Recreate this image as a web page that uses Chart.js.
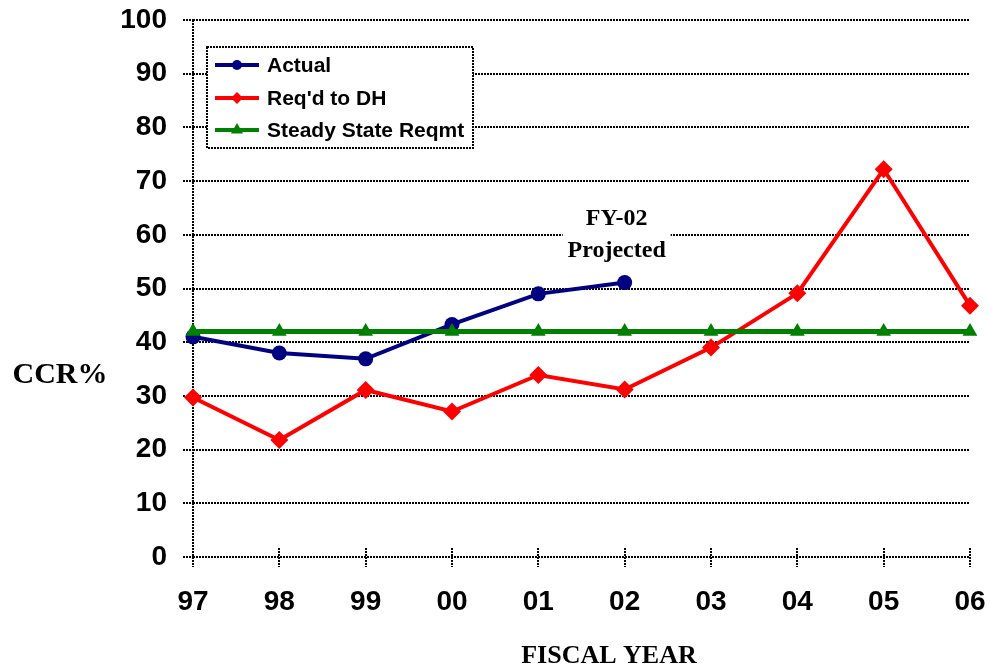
<!DOCTYPE html>
<html>
<head>
<meta charset="utf-8">
<script src="https://cdn.jsdelivr.net/npm/chart.js@4/dist/chart.umd.min.js"></script>
<style>
  html, body { margin: 0; padding: 0; background: #fff; }
  #wrap { width: 990px; height: 668px; position: relative; }
</style>
</head>
<body>
<div id="wrap"><canvas id="c" width="990" height="668"></canvas></div>
<script>
// ---- data ----
const categories = ['97', '98', '99', '00', '01', '02', '03', '04', '05', '06'];
const actual = [41.0, 38.0, 36.9, 43.3, 49.0, 51.1, null, null, null, null];
const reqdToDH = [29.7, 21.8, 31.1, 27.1, 33.9, 31.2, 39.0, 49.1, 72.2, 46.8];
const steadyState = [42, 42, 42, 42, 42, 42, 42, 42, 42, 42];
const seriesNames = ['Actual', "Req'd to DH", 'Steady State Reqmt'];
const yAxisTitle = 'CCR%';
const xAxisTitle = 'FISCAL YEAR';
const noteLines = ['FY-02', 'Projected'];
const noteAt = { category: '02', value: 60 };

const SANS = "'Liberation Sans', Arial, sans-serif";
const SERIF = "'Liberation Serif', 'Times New Roman', serif";
const DOTS = [2, 1];

function marker(ctx, style, x, y, r, color) {
  ctx.save();
  ctx.fillStyle = color;
  ctx.beginPath();
  if (style === 'circle') {
    ctx.arc(x, y, r, 0, Math.PI * 2);
  } else if (style === 'rectRot') {
    ctx.moveTo(x - r, y); ctx.lineTo(x, y - r); ctx.lineTo(x + r, y); ctx.lineTo(x, y + r);
    ctx.closePath();
  } else if (style === 'triangle') {
    ctx.moveTo(x, y - r); ctx.lineTo(x + r * 0.866, y + r * 0.5); ctx.lineTo(x - r * 0.866, y + r * 0.5);
    ctx.closePath();
  }
  ctx.fill();
  ctx.restore();
}

const extras = {
  id: 'extras',
  afterDraw(chart) {
    const ctx = chart.ctx;
    const xs = chart.scales.x, ys = chart.scales.y;
    // upward halves of x-axis tick marks
    ctx.save();
    ctx.strokeStyle = '#000';
    ctx.lineWidth = 2;
    ctx.setLineDash(DOTS);
    categories.forEach((c, i) => {
      const px = Math.round(xs.getPixelForValue(i));
      ctx.beginPath();
      ctx.moveTo(px, ys.bottom - 9);
      ctx.lineTo(px, ys.bottom);
      ctx.stroke();
    });
    ctx.restore();

    // legend box
    const lx = 207, ly = 47, lw = 266, lh = 101;
    ctx.save();
    ctx.fillStyle = '#fff';
    ctx.fillRect(lx, ly, lw, lh);
    ctx.strokeStyle = '#000';
    ctx.lineWidth = 2;
    ctx.setLineDash(DOTS);
    ctx.strokeRect(lx, ly, lw, lh);
    ctx.setLineDash([]);
    const rows = [65, 98, 130];
    chart.data.datasets.forEach((ds, i) => {
      const yy = rows[i];
      ctx.strokeStyle = ds.borderColor;
      ctx.lineWidth = 4;
      ctx.beginPath();
      ctx.moveTo(215, yy); ctx.lineTo(259, yy);
      ctx.stroke();
      marker(ctx, ds.pointStyle, 237, yy, ds.pointStyle === 'rectRot' ? 6 : (ds.pointStyle === 'triangle' ? 7 : 5), ds.borderColor);
      ctx.fillStyle = '#000';
      ctx.font = 'bold 21px ' + SANS;
      ctx.textBaseline = 'middle';
      ctx.textAlign = 'left';
      ctx.fillText(ds.label, 267, yy + 1);
    });
    ctx.restore();

    // note
    const nx = xs.getPixelForValue(categories.indexOf(noteAt.category)) - 8;
    const ny = ys.getPixelForValue(noteAt.value);
    ctx.save();
    ctx.fillStyle = '#fff';
    ctx.fillRect(nx - 54, ny - 28, 108, 56);
    ctx.fillStyle = '#000';
    ctx.font = 'bold 24px ' + SERIF;
    ctx.textAlign = 'center';
    ctx.textBaseline = 'middle';
    ctx.fillText(noteLines[0], nx, ny - 16);
    ctx.fillText(noteLines[1], nx, ny + 16);
    ctx.restore();

    // axis titles
    ctx.save();
    ctx.fillStyle = '#000';
    ctx.textBaseline = 'middle';
    ctx.textAlign = 'center';
    ctx.font = 'bold 30px ' + SERIF;
    ctx.fillText(yAxisTitle, 60, 375);
    ctx.font = 'bold 26px ' + SERIF;
    ctx.fillText(xAxisTitle, 609, 656);
    ctx.restore();
  }
};

new Chart(document.getElementById('c'), {
  type: 'line',
  data: {
    labels: categories,
    datasets: [
      {
        label: seriesNames[0], data: actual,
        borderColor: '#000080', backgroundColor: '#000080',
        borderWidth: 4, pointStyle: 'circle', pointRadius: 7.5,
        pointBorderWidth: 0, order: 3, clip: false, spanGaps: false
      },
      {
        label: seriesNames[1], data: reqdToDH,
        borderColor: '#FF0000', backgroundColor: '#FF0000',
        borderWidth: 4, pointStyle: 'rectRot', pointRadius: 9,
        pointBorderWidth: 0, order: 2, clip: false
      },
      {
        label: seriesNames[2], data: steadyState,
        borderColor: '#008000', backgroundColor: '#008000',
        borderWidth: 5, pointStyle: 'triangle', pointRadius: 8.5,
        pointBorderWidth: 0, order: 1, clip: false
      }
    ]
  },
  options: {
    responsive: false,
    animation: false,
    events: [],
    layout: { padding: { left: 0, top: 20, right: 20, bottom: 0 } },
    plugins: { legend: { display: false }, tooltip: { enabled: false } },
    elements: { line: { tension: 0 } },
    scales: {
      x: {
        type: 'category',
        offset: false,
        afterFit(s) { s.height = 111; s.paddingLeft = 0; s.paddingRight = 0; },
        border: { display: false, dash: DOTS },
        grid: {
          color: (c) => (c.index === 0 ? '#000' : 'rgba(0,0,0,0)'),
          lineWidth: 2,
          drawTicks: true,
          tickLength: 10,
          tickColor: '#000',
          tickWidth: 2,
          tickBorderDash: DOTS
        },
        ticks: {
          color: '#000',
          font: { family: SANS, size: 28, weight: 'bold' },
          padding: 18,
          maxRotation: 0,
          autoSkip: false
        }
      },
      y: {
        min: 0, max: 100,
        afterFit(s) { s.width = 193; s.paddingTop = 0; s.paddingBottom = 0; },
        border: { display: false, dash: DOTS },
        grid: {
          color: '#000',
          lineWidth: 2,
          drawTicks: true,
          tickLength: 10,
          tickColor: '#000',
          tickWidth: 2,
          tickBorderDash: DOTS
        },
        ticks: {
          stepSize: 10,
          color: '#000',
          font: { family: SANS, size: 28, weight: 'bold' },
          padding: 16
        }
      }
    }
  },
  plugins: [extras]
});
</script>
</body>
</html>
